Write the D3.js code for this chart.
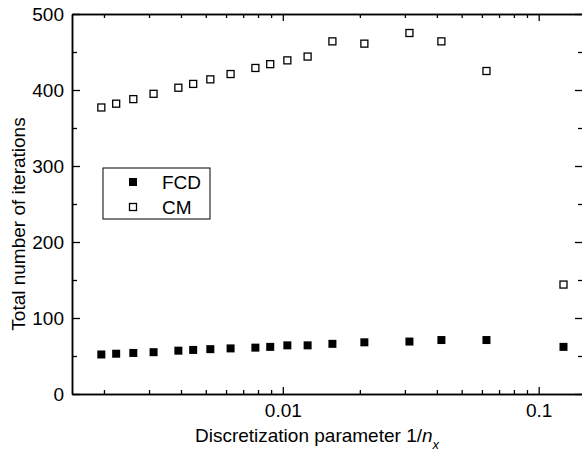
<!DOCTYPE html>
<html>
<head>
<meta charset="utf-8">
<script src="https://cdn.jsdelivr.net/npm/d3@7"></script>
<style>
  body { margin: 0; background: #fff; }
  svg { display: block; font-family: "Liberation Sans", Arial, sans-serif; }
</style>
</head>
<body>
<script>
// grid sizes n_x, the chart plots 1/n_x
var nx = [512, 448, 384, 320, 256, 224, 192, 160, 128, 112, 96, 80, 64, 48, 32, 24, 16, 8];
var fcd = [52, 53, 54, 55, 57, 58, 59, 60, 61, 62, 64, 64, 66, 68, 69, 71, 71, 62];
var cm = [377, 382, 388, 395, 403, 408, 414, 421, 429, 434, 439, 444, 464, 461, 475, 464, 425, 144];
var xMajor = [0.01, 0.1];
var xMinor = [0.002, 0.003, 0.004, 0.005, 0.006, 0.007, 0.008, 0.009,
              0.02, 0.03, 0.04, 0.05, 0.06, 0.07, 0.08, 0.09];
var yMajor = [0, 100, 200, 300, 400, 500];
var yMinor = [50, 150, 250, 350, 450];

var width = 582, height = 452;
var plotL = 72, plotR = 583, plotT = 14, plotB = 394;
var fontSize = 19;

var svg = d3.select("body").append("svg")
    .attr("width", width)
    .attr("height", height);

var x = d3.scaleLog().domain([0.0015, 0.149]).range([plotL, plotR]);
var y = d3.scaleLinear().domain([0, 500]).range([plotB, plotT]);

// axes, ticks pointing inward
function styleAxis(g) {
  g.selectAll("path.domain").attr("stroke", "#000").attr("stroke-width", 1.5);
  g.selectAll(".tick line").attr("stroke", "#000").attr("stroke-width", 1.3);
  g.selectAll(".tick text").attr("fill", "#000").attr("font-size", fontSize)
      .attr("font-family", "Liberation Sans, Arial, sans-serif");
}

svg.append("g")
    .attr("transform", "translate(0," + plotB + ")")
    .call(d3.axisBottom(x).tickValues(xMinor).tickFormat("").tickSizeInner(-4).tickSizeOuter(0))
    .call(styleAxis);
svg.append("g")
    .attr("transform", "translate(0," + plotB + ")")
    .call(d3.axisBottom(x).tickValues(xMajor).tickFormat(d3.format("")).tickSizeInner(-7).tickSizeOuter(0).tickPadding(10))
    .call(styleAxis)
    .call(function(g) { g.selectAll(".tick text").attr("dy", "0.71em"); });

svg.append("g")
    .attr("transform", "translate(0," + plotT + ")")
    .call(d3.axisTop(x).tickValues(xMinor).tickFormat("").tickSizeInner(-4).tickSizeOuter(0))
    .call(styleAxis);
svg.append("g")
    .attr("transform", "translate(0," + plotT + ")")
    .call(d3.axisTop(x).tickValues(xMajor).tickFormat("").tickSizeInner(-7).tickSizeOuter(0))
    .call(styleAxis);

svg.append("g")
    .attr("transform", "translate(" + plotL + ",0)")
    .call(d3.axisLeft(y).tickValues(yMinor).tickFormat("").tickSizeInner(-5).tickSizeOuter(0))
    .call(styleAxis);
svg.append("g")
    .attr("transform", "translate(" + plotL + ",0)")
    .call(d3.axisLeft(y).tickValues(yMajor).tickSizeInner(-8).tickSizeOuter(0).tickPadding(8))
    .call(styleAxis);

svg.append("g")
    .attr("transform", "translate(" + plotR + ",0)")
    .call(d3.axisRight(y).tickValues(yMinor).tickFormat("").tickSizeInner(-5).tickSizeOuter(0))
    .call(styleAxis);
svg.append("g")
    .attr("transform", "translate(" + plotR + ",0)")
    .call(d3.axisRight(y).tickValues(yMajor).tickFormat("").tickSizeInner(-8).tickSizeOuter(0))
    .call(styleAxis);

// data
var rows = nx.map(function(n, i) { return { h: 1 / n, fcd: fcd[i], cm: cm[i] }; });
var sq = 8;

svg.append("g").selectAll("rect")
    .data(rows)
    .enter().append("rect")
    .attr("x", function(d) { return x(d.h) - sq / 2 + 0.5; })
    .attr("y", function(d) { return y(d.cm) - sq / 2 + 0.5; })
    .attr("width", sq - 1)
    .attr("height", sq - 1)
    .attr("fill", "#fff")
    .attr("stroke", "#000")
    .attr("stroke-width", 1.3);

svg.append("g").selectAll("rect")
    .data(rows)
    .enter().append("rect")
    .attr("x", function(d) { return x(d.h) - sq / 2; })
    .attr("y", function(d) { return y(d.fcd) - sq / 2; })
    .attr("width", sq)
    .attr("height", sq)
    .attr("fill", "#000");

// legend
var legend = svg.append("g");
legend.append("rect")
    .attr("x", 103).attr("y", 168)
    .attr("width", 107).attr("height", 51)
    .attr("fill", "#fff").attr("stroke", "#000").attr("stroke-width", 1);
legend.append("rect")
    .attr("x", 129).attr("y", 178).attr("width", 8).attr("height", 8)
    .attr("fill", "#000");
legend.append("rect")
    .attr("x", 129.5).attr("y", 203.5).attr("width", 7).attr("height", 7)
    .attr("fill", "#fff").attr("stroke", "#000").attr("stroke-width", 1.3);
legend.append("text").attr("x", 162).attr("y", 188.5)
    .attr("font-size", fontSize).text("FCD");
legend.append("text").attr("x", 162).attr("y", 213.5)
    .attr("font-size", fontSize).text("CM");

// axis titles
var xt = svg.append("text")
    .attr("x", 317).attr("y", 442)
    .attr("text-anchor", "middle")
    .attr("font-size", fontSize);
xt.append("tspan").text("Discretization parameter 1/");
xt.append("tspan").attr("font-style", "italic").text("n");
xt.append("tspan").attr("font-style", "italic").attr("font-size", 13).attr("dy", 7).text("x");

svg.append("text")
    .attr("transform", "translate(25,224)rotate(-90)")
    .attr("text-anchor", "middle")
    .attr("font-size", fontSize)
    .text("Total number of iterations");
</script>
</body>
</html>
